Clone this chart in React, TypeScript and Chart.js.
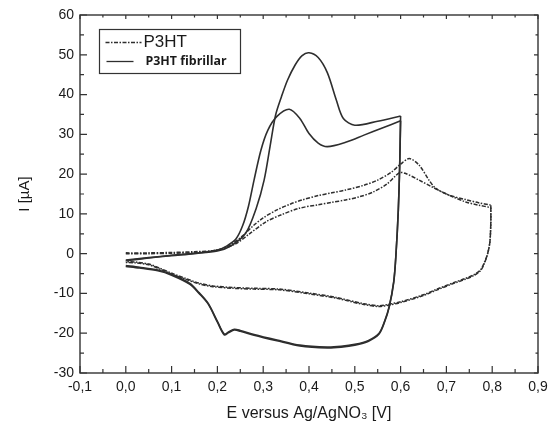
import React, { useEffect, useRef } from "react";
import { Chart, registerables } from "chart.js";

Chart.register(...registerables);

// ---- Data (E in V vs Ag/AgNO3, I in µA) ----
// P3HT fibrillar, first anodic scan
const fibFwd1E = [0, 0.05, 0.1, 0.15, 0.2, 0.22, 0.24, 0.255, 0.268, 0.28, 0.295, 0.31, 0.33, 0.357, 0.38, 0.4, 0.42, 0.44, 0.48, 0.52, 0.56, 0.6];
const fibFwd1I = [-1.8, -1.1, -0.5, 0, 0.9, 1.9, 3.6, 7, 12, 18.5, 26, 31, 34.5, 36.3, 34, 30.2, 27.8, 26.9, 28, 29.8, 31.6, 33.4];
// P3HT fibrillar, second anodic scan
const fibFwd2E = [0, 0.05, 0.1, 0.15, 0.2, 0.23, 0.262, 0.285, 0.302, 0.315, 0.327, 0.34, 0.353, 0.37, 0.385, 0.4, 0.42, 0.44, 0.46, 0.475, 0.5, 0.55, 0.6];
const fibFwd2I = [-1.6, -1.0, -0.4, 0.1, 0.7, 2, 5.2, 11.5, 18.5, 27, 34.8, 39.5, 43.6, 47.5, 49.8, 50.5, 49.3, 45.5, 38.5, 34, 32.3, 33.3, 34.6];
// P3HT fibrillar, cathodic scans
const fibRev1E = [0.6, 0.598, 0.595, 0.59, 0.585, 0.575, 0.565, 0.553, 0.53, 0.5, 0.47, 0.44, 0.38, 0.33, 0.28, 0.25, 0.237, 0.225, 0.215, 0.2, 0.18, 0.16, 0.14, 0.1, 0.07, 0.03, 0];
const fibRev1I = [33.4, 22, 11, 0, -7, -13.3, -17, -20, -21.8, -22.8, -23.3, -23.5, -23, -21.7, -20.3, -19.3, -19.0, -19.6, -20.2, -17, -12.5, -9.8, -7.5, -5.2, -4.1, -3.4, -3];
const fibRev2E = [0.6, 0.598, 0.595, 0.59, 0.585, 0.575, 0.565, 0.553, 0.53, 0.5, 0.47, 0.44, 0.38, 0.33, 0.28, 0.25, 0.237, 0.225, 0.215, 0.2, 0.18, 0.16, 0.14, 0.1, 0.07, 0.03, 0];
const fibRev2I = [34.6, 22, 11, 0, -7.2, -13.5, -17.2, -20.2, -22, -23, -23.5, -23.7, -23.2, -21.9, -20.5, -19.5, -19.2, -19.8, -20.4, -17.2, -12.7, -10, -7.7, -5.4, -4.3, -3.6, -3.2];

// P3HT, anodic scans
const p3Fwd1E = [0, 0.05, 0.1, 0.15, 0.2, 0.23, 0.255, 0.28, 0.3, 0.33, 0.36, 0.385, 0.42, 0.45, 0.48, 0.52, 0.55, 0.58, 0.6, 0.619, 0.64, 0.662, 0.677, 0.706, 0.742, 0.77, 0.797];
const p3Fwd1I = [0, 0, 0.1, 0.3, 0.9, 2.3, 4.5, 7.2, 9, 11, 12.5, 13.5, 14.6, 15.3, 16, 17.2, 18.5, 20.5, 22.5, 23.9, 22.3, 18.5, 16.4, 14.7, 13.6, 12.8, 12.2];
const p3Fwd2E = [0, 0.05, 0.1, 0.15, 0.2, 0.24, 0.27, 0.306, 0.34, 0.378, 0.42, 0.45, 0.48, 0.51, 0.54, 0.57, 0.597, 0.61, 0.64, 0.67, 0.706, 0.742, 0.77, 0.797];
const p3Fwd2I = [0.2, 0.2, 0.3, 0.5, 0.9, 2.5, 5, 8, 9.8, 11.4, 12.3, 12.9, 13.5, 14.3, 15.5, 17.5, 20.3, 20.2, 18.5, 16.7, 14.7, 13, 12.2, 11.6];
// P3HT, cathodic scans
const p3Rev1E = [0.797, 0.797, 0.795, 0.79, 0.783, 0.775, 0.76, 0.74, 0.72, 0.68, 0.648, 0.6, 0.575, 0.553, 0.52, 0.459, 0.4, 0.335, 0.28, 0.233, 0.19, 0.16, 0.13, 0.102, 0.075, 0.05, 0.02, 0];
const p3Rev1I = [12.2, 8, 3, 0, -2.2, -4, -5.3, -6.3, -7.1, -8.9, -10.4, -12.1, -12.7, -13.1, -12.6, -11, -9.9, -8.9, -8.7, -8.5, -8.1, -7.4, -6.2, -5, -3.7, -2.6, -2.1, -2];
const p3Rev2E = [0.797, 0.797, 0.795, 0.79, 0.783, 0.775, 0.76, 0.74, 0.72, 0.68, 0.648, 0.6, 0.575, 0.553, 0.52, 0.459, 0.4, 0.335, 0.28, 0.233, 0.19, 0.16, 0.13, 0.102, 0.075, 0.05, 0.02, 0];
const p3Rev2I = [11.6, 8, 3, 0, -2.4, -4.2, -5.5, -6.5, -7.3, -9.1, -10.6, -12.3, -12.9, -13.3, -12.8, -11.2, -10.1, -9.1, -8.9, -8.7, -8.3, -7.6, -6.4, -5.2, -3.9, -2.8, -2.3, -2.2];

const xTickMin = -0.1;
const xTickMax = 0.9;
const yTickMin = -30;
const yTickMax = 60;

const legendLabels = ["P3HT", "P3HT fibrillar"];
const xTitle = "E versus Ag/AgNO\u2083 [V]";
const yTitle = "I [\u00B5A]";

const LINE = "#2e2e2e";
const DASH = [4, 1.5, 1.5, 1.5];

function pts(e: number[], i: number[]) {
  return e.map((x, k) => ({ x, y: i[k] }));
}

const framePlugin = {
  id: "frameTicks",
  afterDraw(chart: any) {
    const { ctx, chartArea: a, scales } = chart;
    const xs = scales.x;
    const ys = scales.y;
    ctx.save();
    ctx.strokeStyle = "#333";
    ctx.lineWidth = 1.4;
    ctx.strokeRect(a.left, a.top, a.right - a.left, a.bottom - a.top);
    ctx.lineWidth = 1.2;
    ctx.beginPath();
    for (let k = 0; k <= 20; k++) {
      const v = xTickMin + k * 0.05;
      const px = xs.getPixelForValue(v);
      const major = k % 2 === 0;
      const L = major ? 7 : 4;
      ctx.moveTo(px, a.bottom);
      ctx.lineTo(px, a.bottom - L);
      ctx.moveTo(px, a.top);
      ctx.lineTo(px, a.top + (major ? 4 : 2.5));
    }
    for (let k = 0; k <= 18; k++) {
      const v = yTickMin + k * 5;
      const py = ys.getPixelForValue(v);
      const major = k % 2 === 0;
      const L = major ? 7 : 4;
      ctx.moveTo(a.left, py);
      ctx.lineTo(a.left + L, py);
      ctx.moveTo(a.right, py);
      ctx.lineTo(a.right - (major ? 4 : 2.5), py);
    }
    ctx.stroke();

    // legend box
    const bx = a.left + 19.5;
    const by = a.top + 14.5;
    const bw = 141;
    const bh = 44;
    ctx.lineWidth = 1.2;
    ctx.strokeStyle = "#333";
    ctx.strokeRect(bx, by, bw, bh);
    ctx.strokeStyle = LINE;
    ctx.lineWidth = 1.3;
    ctx.setLineDash(DASH);
    ctx.beginPath();
    ctx.moveTo(bx + 6, by + 13);
    ctx.lineTo(bx + 42, by + 13);
    ctx.stroke();
    ctx.setLineDash([]);
    ctx.beginPath();
    ctx.moveTo(bx + 7, by + 32);
    ctx.lineTo(bx + 34, by + 32);
    ctx.stroke();
    ctx.fillStyle = "#1a1a1a";
    ctx.textBaseline = "middle";
    ctx.textAlign = "left";
    ctx.font = "17px 'Liberation Sans', Arial, sans-serif";
    ctx.fillText(legendLabels[0], bx + 44, by + 13);
    ctx.font = "bold 13px 'Open Sans', 'Noto Sans', sans-serif";
    const w = ctx.measureText(legendLabels[1]).width;
    const size = Math.max(9, Math.min(16, (13 * 81) / w));
    ctx.font = `bold ${size.toFixed(1)}px 'Open Sans', 'Noto Sans', sans-serif`;
    ctx.fillText(legendLabels[1], bx + 46, by + 32);
    ctx.restore();
  },
};

export default function App() {
  const ref = useRef<HTMLCanvasElement>(null);
  useEffect(() => {
    if (!ref.current) return;
    const solid = {
      borderColor: LINE,
      borderWidth: 1.6,
      pointRadius: 0,
      showLine: true,
      tension: 0.3,
      fill: false,
    };
    const dashed = { ...solid, borderWidth: 1.5, borderDash: DASH };
    const tickFont = { family: "'Liberation Sans', Arial, sans-serif", size: 14 };
    const chart = new Chart(ref.current, {
      type: "scatter",
      data: {
        datasets: [
          { label: legendLabels[0], data: pts(p3Fwd1E, p3Fwd1I), ...dashed },
          { label: legendLabels[0], data: pts(p3Fwd2E, p3Fwd2I), ...dashed },
          { label: legendLabels[0], data: pts(p3Rev1E, p3Rev1I), ...dashed },
          { label: legendLabels[0], data: pts(p3Rev2E, p3Rev2I), ...dashed },
          { label: legendLabels[1], data: pts(fibFwd1E, fibFwd1I), ...solid },
          { label: legendLabels[1], data: pts(fibFwd2E, fibFwd2I), ...solid },
          { label: legendLabels[1], data: pts(fibRev1E, fibRev1I), ...solid },
          { label: legendLabels[1], data: pts(fibRev2E, fibRev2I), ...solid },
        ],
      },
      options: {
        responsive: false,
        animation: false,
        layout: { padding: { top: 15, right: 16, left: 0, bottom: 0 } },
        plugins: { legend: { display: false }, tooltip: { enabled: false } },
        scales: {
          x: {
            type: "linear",
            min: xTickMin,
            max: xTickMax,
            grid: { display: false, drawTicks: false },
            border: { display: false },
            ticks: {
              stepSize: 0.1,
              padding: 6,
              color: "#1a1a1a",
              font: tickFont,
              callback: (v: any) => {
                const n = Math.abs(v) < 1e-9 ? 0 : Number(v);
                return n.toFixed(1).replace(".", ",");
              },
            },
            title: {
              display: true,
              text: xTitle,
              color: "#1a1a1a",
              font: { family: "'Liberation Sans', Arial, sans-serif", size: 16 },
              padding: { top: 0, bottom: 5 },
            },
            afterFit: (s: any) => {
              s.height = 55;
            },
          },
          y: {
            type: "linear",
            min: yTickMin,
            max: yTickMax,
            grid: { display: false, drawTicks: false },
            border: { display: false },
            ticks: {
              stepSize: 10,
              padding: 6,
              color: "#1a1a1a",
              font: tickFont,
            },
            title: {
              display: true,
              text: yTitle,
              color: "#1a1a1a",
              font: { family: "'Liberation Sans', Arial, sans-serif", size: 15 },
              padding: { top: 16, bottom: 0 },
            },
            afterFit: (s: any) => {
              s.width = 80;
            },
          },
        },
      },
      plugins: [framePlugin],
    });
    return () => chart.destroy();
  }, []);
  return (
    <canvas
      ref={ref}
      width={554}
      height={428}
      style={{ position: "fixed", left: 0, top: 0, display: "block", background: "#fff" }}
    />
  );
}
